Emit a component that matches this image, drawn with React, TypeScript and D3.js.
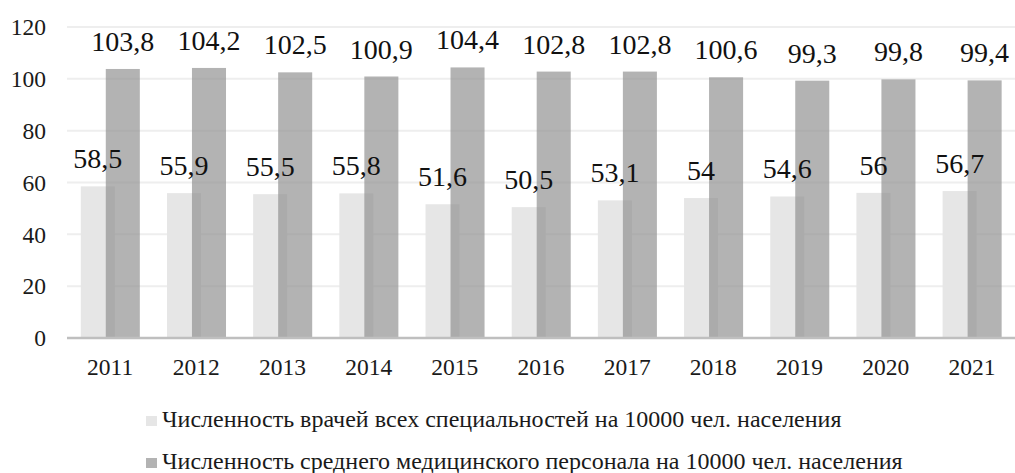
import { useEffect, useRef } from "react";
import * as d3 from "d3";

const years = ["2011", "2012", "2013", "2014", "2015", "2016", "2017", "2018", "2019", "2020", "2021"];
const doctors = [58.5, 55.9, 55.5, 55.8, 51.6, 50.5, 53.1, 54, 54.6, 56, 56.7];
const nurses = [103.8, 104.2, 102.5, 100.9, 104.4, 102.8, 102.8, 100.6, 99.3, 99.8, 99.4];
const yTicks = [0, 20, 40, 60, 80, 100, 120];
const seriesNames = [
  "Численность врачей всех специальностей на 10000 чел. населения",
  "Численность среднего медицинского персонала на 10000 чел. населения",
];

const W = 1015;
const H = 473;
const FONT = "Liberation Serif";

export default function App() {
  const ref = useRef<SVGSVGElement | null>(null);

  useEffect(() => {
    const svg = d3.select(ref.current);
    svg.selectAll("*").remove();

    const margin = { left: 67, right: 0, top: 27, bottom: 135 };
    const x = d3.scaleBand().domain(years).range([margin.left, W - margin.right]);
    const y = d3.scaleLinear().domain([0, 120]).range([H - margin.bottom, margin.top]);

    const bw = x.bandwidth();
    const barW = bw * 0.395;
    const lightOff = bw * 0.16;
    const darkOff = bw * 0.45;

    // Gitterlinien
    svg
      .append("g")
      .selectAll("line")
      .data(yTicks.filter((t) => t > 0))
      .join("line")
      .attr("x1", margin.left)
      .attr("x2", W - margin.right)
      .attr("y1", (d) => y(d))
      .attr("y2", (d) => y(d))
      .attr("stroke", "#eeeeee")
      .attr("stroke-width", 2);

    // Y-Achse Beschriftung
    svg
      .append("g")
      .selectAll("text")
      .data(yTicks)
      .join("text")
      .attr("x", 46)
      .attr("y", (d) => y(d))
      .attr("dy", "0.35em")
      .attr("text-anchor", "end")
      .attr("font-family", FONT)
      .attr("font-size", 23.5)
      .attr("fill", "#1a1a1a")
      .text((d) => d);

    const fmt = (v: number) => String(v).replace(".", ",");

    // helle Balken
    svg
      .append("g")
      .selectAll("rect")
      .data(doctors)
      .join("rect")
      .attr("x", (_, i) => (x(years[i]) as number) + lightOff)
      .attr("y", (d) => y(d))
      .attr("width", barW)
      .attr("height", (d) => y(0) - y(d))
      .attr("fill", "#e6e6e6");

    // dunkle Balken (leicht transparent, Überlappung)
    svg
      .append("g")
      .selectAll("rect")
      .data(nurses)
      .join("rect")
      .attr("x", (_, i) => (x(years[i]) as number) + darkOff)
      .attr("y", (d) => y(d))
      .attr("width", barW)
      .attr("height", (d) => y(0) - y(d))
      .attr("fill", "#8f8f8f")
      .attr("fill-opacity", 0.68);

    // Achsenlinie
    svg
      .append("line")
      .attr("x1", margin.left)
      .attr("x2", W - margin.right)
      .attr("y1", y(0))
      .attr("y2", y(0))
      .attr("stroke", "#bfbfbf")
      .attr("stroke-width", 2.5);

    // Datenbeschriftungen
    const labels = (vals: number[], off: number) =>
      svg
        .append("g")
        .selectAll("text")
        .data(vals)
        .join("text")
        .attr("x", (_, i) => (x(years[i]) as number) + off + barW / 2)
        .attr("y", (d) => y(d) - 18)
        .attr("text-anchor", "middle")
        .attr("font-family", FONT)
        .attr("font-size", 28)
        .attr("fill", "#111")
        .text((d) => fmt(d));

    labels(doctors, lightOff);
    labels(nurses, darkOff);

    // X-Achse Beschriftung
    svg
      .append("g")
      .selectAll("text")
      .data(years)
      .join("text")
      .attr("x", (d) => (x(d) as number) + bw / 2)
      .attr("y", 375)
      .attr("text-anchor", "middle")
      .attr("font-family", FONT)
      .attr("font-size", 23.5)
      .attr("fill", "#1a1a1a")
      .text((d) => d);

    // Legende
    const colors = ["#e6e6e6", "#b3b3b3"];
    const legend = svg
      .append("g")
      .selectAll("g")
      .data(seriesNames)
      .join("g")
      .attr("transform", (_, i) => `translate(146,${416 + i * 42})`);

    legend
      .append("rect")
      .attr("width", 11)
      .attr("height", 10)
      .attr("fill", (_, i) => colors[i]);

    legend
      .append("text")
      .attr("x", 16)
      .attr("y", 11)
      .attr("font-family", FONT)
      .attr("font-size", 24)
      .attr("fill", "#1a1a1a")
      .text((d) => d);
  }, []);

  return (
    <svg
      ref={ref}
      width={W}
      height={H}
      style={{ position: "absolute", left: 0, top: 0, background: "#fff" }}
    />
  );
}
